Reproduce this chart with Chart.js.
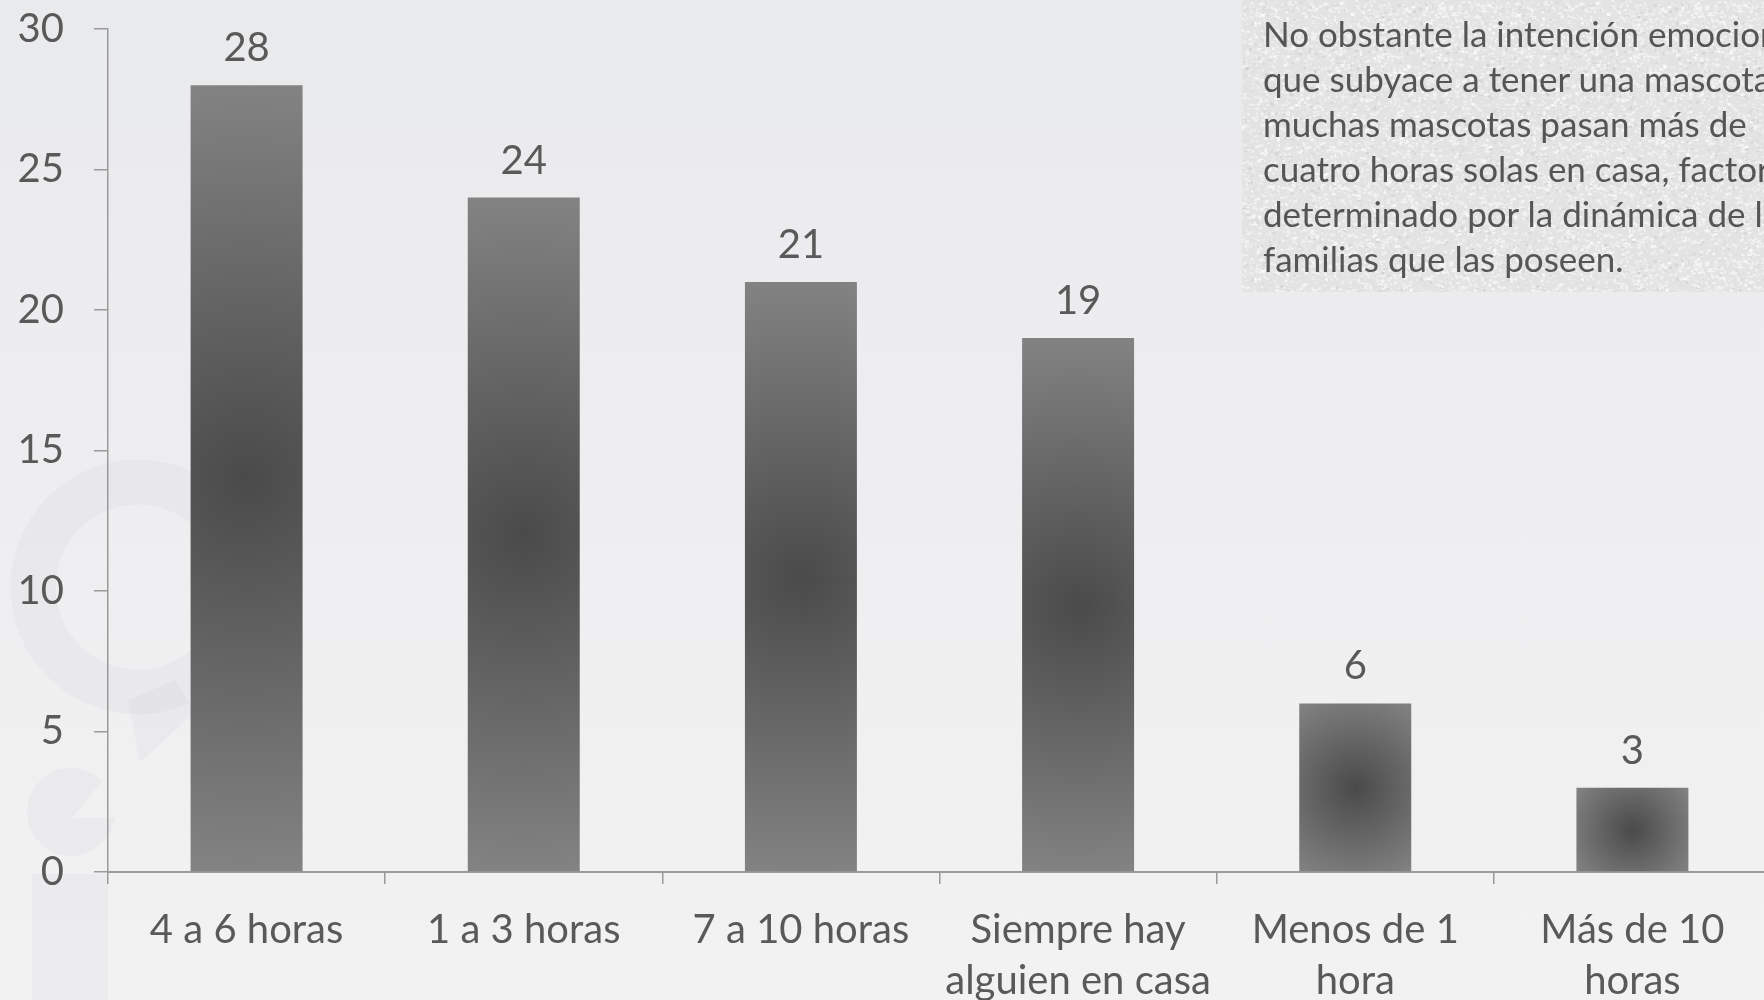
<!DOCTYPE html>
<html>
<head>
<meta charset="utf-8">
<script src="https://cdn.jsdelivr.net/npm/chart.js@4.4.1/dist/chart.umd.min.js"></script>
<style>
  html, body { margin:0; padding:0; width:1764px; height:1000px; overflow:hidden; }
  body { background: linear-gradient(to bottom, #e9eaec 0%, #eeeef0 50%, #f2f2f3 100%); position:relative; font-family: Lato, sans-serif; }
  #wrap { position:absolute; left:0; top:0; width:1771px; height:1000px; }
  #note { position:absolute; left:1263px; top:11px; width:600px; color:#555555;
          font-family: Lato, sans-serif; font-size:35px; line-height:45px; white-space:nowrap; }
</style>
</head>
<body>
<div id="wrap"><canvas id="c"></canvas></div>
<div id="note">No obstante la intención emocional<br>que subyace a tener una mascota,<br>muchas mascotas pasan más de<br>cuatro horas solas en casa, factor<br>determinado por la dinámica de las<br>familias que las poseen.</div>
<script>
const categories = ['4 a 6 horas', '1 a 3 horas', '7 a 10 horas', ['Siempre hay', 'alguien en casa'], ['Menos de 1', 'hora'], ['Más de 10', 'horas']];
const values = [28, 24, 21, 19, 6, 3];
const yMin = 0, yMax = 30, yStep = 5;

const TEXT = '#595959';
const FONT = 'Lato';
const BAR_PCT = 0.404;
const PLOT_TOP = 29;

function barFill(ctx) {
  const c = ctx.chart;
  if (ctx.type !== 'data' || !c.chartArea) return '#666666';
  const xs = c.scales.x, ys = c.scales.y;
  const cx = xs.getPixelForValue(ctx.dataIndex);
  const top = ys.getPixelForValue(ctx.raw);
  const base = ys.getPixelForValue(0);
  const cy = (top + base) / 2;
  const hh = (base - top) / 2;
  const hw = (xs.width / c.data.labels.length) * BAR_PCT / 2;
  const r = Math.sqrt(hh * hh + hw * hw);
  const g = c.ctx.createRadialGradient(cx, cy, 0, cx, cy, r);
  g.addColorStop(0, '#4a4a4a');
  g.addColorStop(1, '#838383');
  return g;
}

// deterministic speckle texture for the note box
function makeTexture() {
  const t = document.createElement('canvas');
  t.width = 256; t.height = 256;
  const g = t.getContext('2d');
  g.fillStyle = '#e3e3e3';
  g.fillRect(0, 0, 256, 256);
  let s = 12345;
  const rnd = () => { s = (s * 1103515245 + 12345) & 0x7fffffff; return s / 0x7fffffff; };
  for (let i = 0; i < 5000; i++) {
    const x = rnd() * 256, y = rnd() * 256, w = 1 + rnd() * 3, h = 1 + rnd() * 2;
    g.fillStyle = rnd() < 0.85 ? 'rgba(255,255,255,' + (0.2 + rnd() * 0.45) + ')' : 'rgba(185,185,185,' + (0.15 + rnd() * 0.25) + ')';
    g.fillRect(x, y, w, h);
  }
  return t;
}
const texture = makeTexture();

const decor = {
  id: 'decor',
  beforeDraw(chart) {
    const g = chart.ctx;
    g.save();
    // faint watermark
    const wm = 'rgba(40,40,60,0.028)';
    g.strokeStyle = wm;
    g.fillStyle = wm;
    g.lineWidth = 45;
    g.beginPath();
    g.arc(138, 587, 105, 0, Math.PI * 2);
    g.stroke();
    g.beginPath();
    g.moveTo(128, 700); g.lineTo(140, 762); g.lineTo(195, 712); g.lineTo(175, 680); g.closePath();
    g.fill();
    g.beginPath();
    g.moveTo(72, 818);
    g.lineTo(115, 818);
    g.arc(71, 812, 44, 0.05 * Math.PI, 1.75 * Math.PI);
    g.closePath();
    g.fill();
    g.fillRect(32, 874, 76, 126);
    // note box
    g.fillStyle = g.createPattern(texture, 'repeat');
    g.fillRect(1242, 0, 600, 292);
    g.restore();
  }
};

const valueLabels = {
  id: 'valueLabels',
  afterDatasetsDraw(chart) {
    const g = chart.ctx;
    const meta = chart.getDatasetMeta(0);
    g.save();
    g.font = '40px ' + FONT;
    g.fillStyle = TEXT;
    g.textAlign = 'center';
    g.textBaseline = 'middle';
    meta.data.forEach((el, i) => {
      g.fillText(String(values[i]), el.x, el.y - 37);
    });
    g.restore();
  }
};

const chart = new Chart(document.getElementById('c'), {
  type: 'bar',
  data: {
    labels: categories,
    datasets: [{
      data: values,
      backgroundColor: barFill,
      borderWidth: 0,
      barPercentage: BAR_PCT,
      categoryPercentage: 1
    }]
  },
  options: {
    responsive: true,
    maintainAspectRatio: false,
    animation: false,
    layout: { padding: { top: PLOT_TOP, left: 0, right: 0, bottom: 0 } },
    plugins: { legend: { display: false }, tooltip: { enabled: false } },
    scales: {
      x: {
        grid: { display: true, drawOnChartArea: false, offset: true, tickLength: 12, color: '#9a9a9a', lineWidth: 1.5 },
        border: { display: true, color: '#9a9a9a', width: 2 },
        ticks: { font: { family: FONT, size: 40, lineHeight: 1.275 }, color: TEXT, padding: 21, maxRotation: 0, autoSkip: false },
        afterFit(s) { s.height = 128; s.paddingLeft = 0; s.paddingRight = 0; }
      },
      y: {
        min: yMin, max: yMax,
        grid: { display: true, drawOnChartArea: false, tickLength: 14, color: '#9a9a9a', lineWidth: 1.5 },
        border: { display: true, color: '#9a9a9a', width: 1.5 },
        ticks: { stepSize: yStep, font: { family: FONT, size: 40 }, color: TEXT, padding: 30 },
        afterFit(s) { s.width = 108; s.paddingTop = 0; s.paddingBottom = 0; }
      }
    }
  },
  plugins: [decor, valueLabels]
});
// correct any extra automatic top padding so the plot top lands at PLOT_TOP
const extra = chart.chartArea.top - PLOT_TOP;
if (Math.abs(extra) > 0.5) {
  chart.options.layout.padding.top = Math.max(0, PLOT_TOP - extra);
  chart.update();
}
</script>
</body>
</html>
